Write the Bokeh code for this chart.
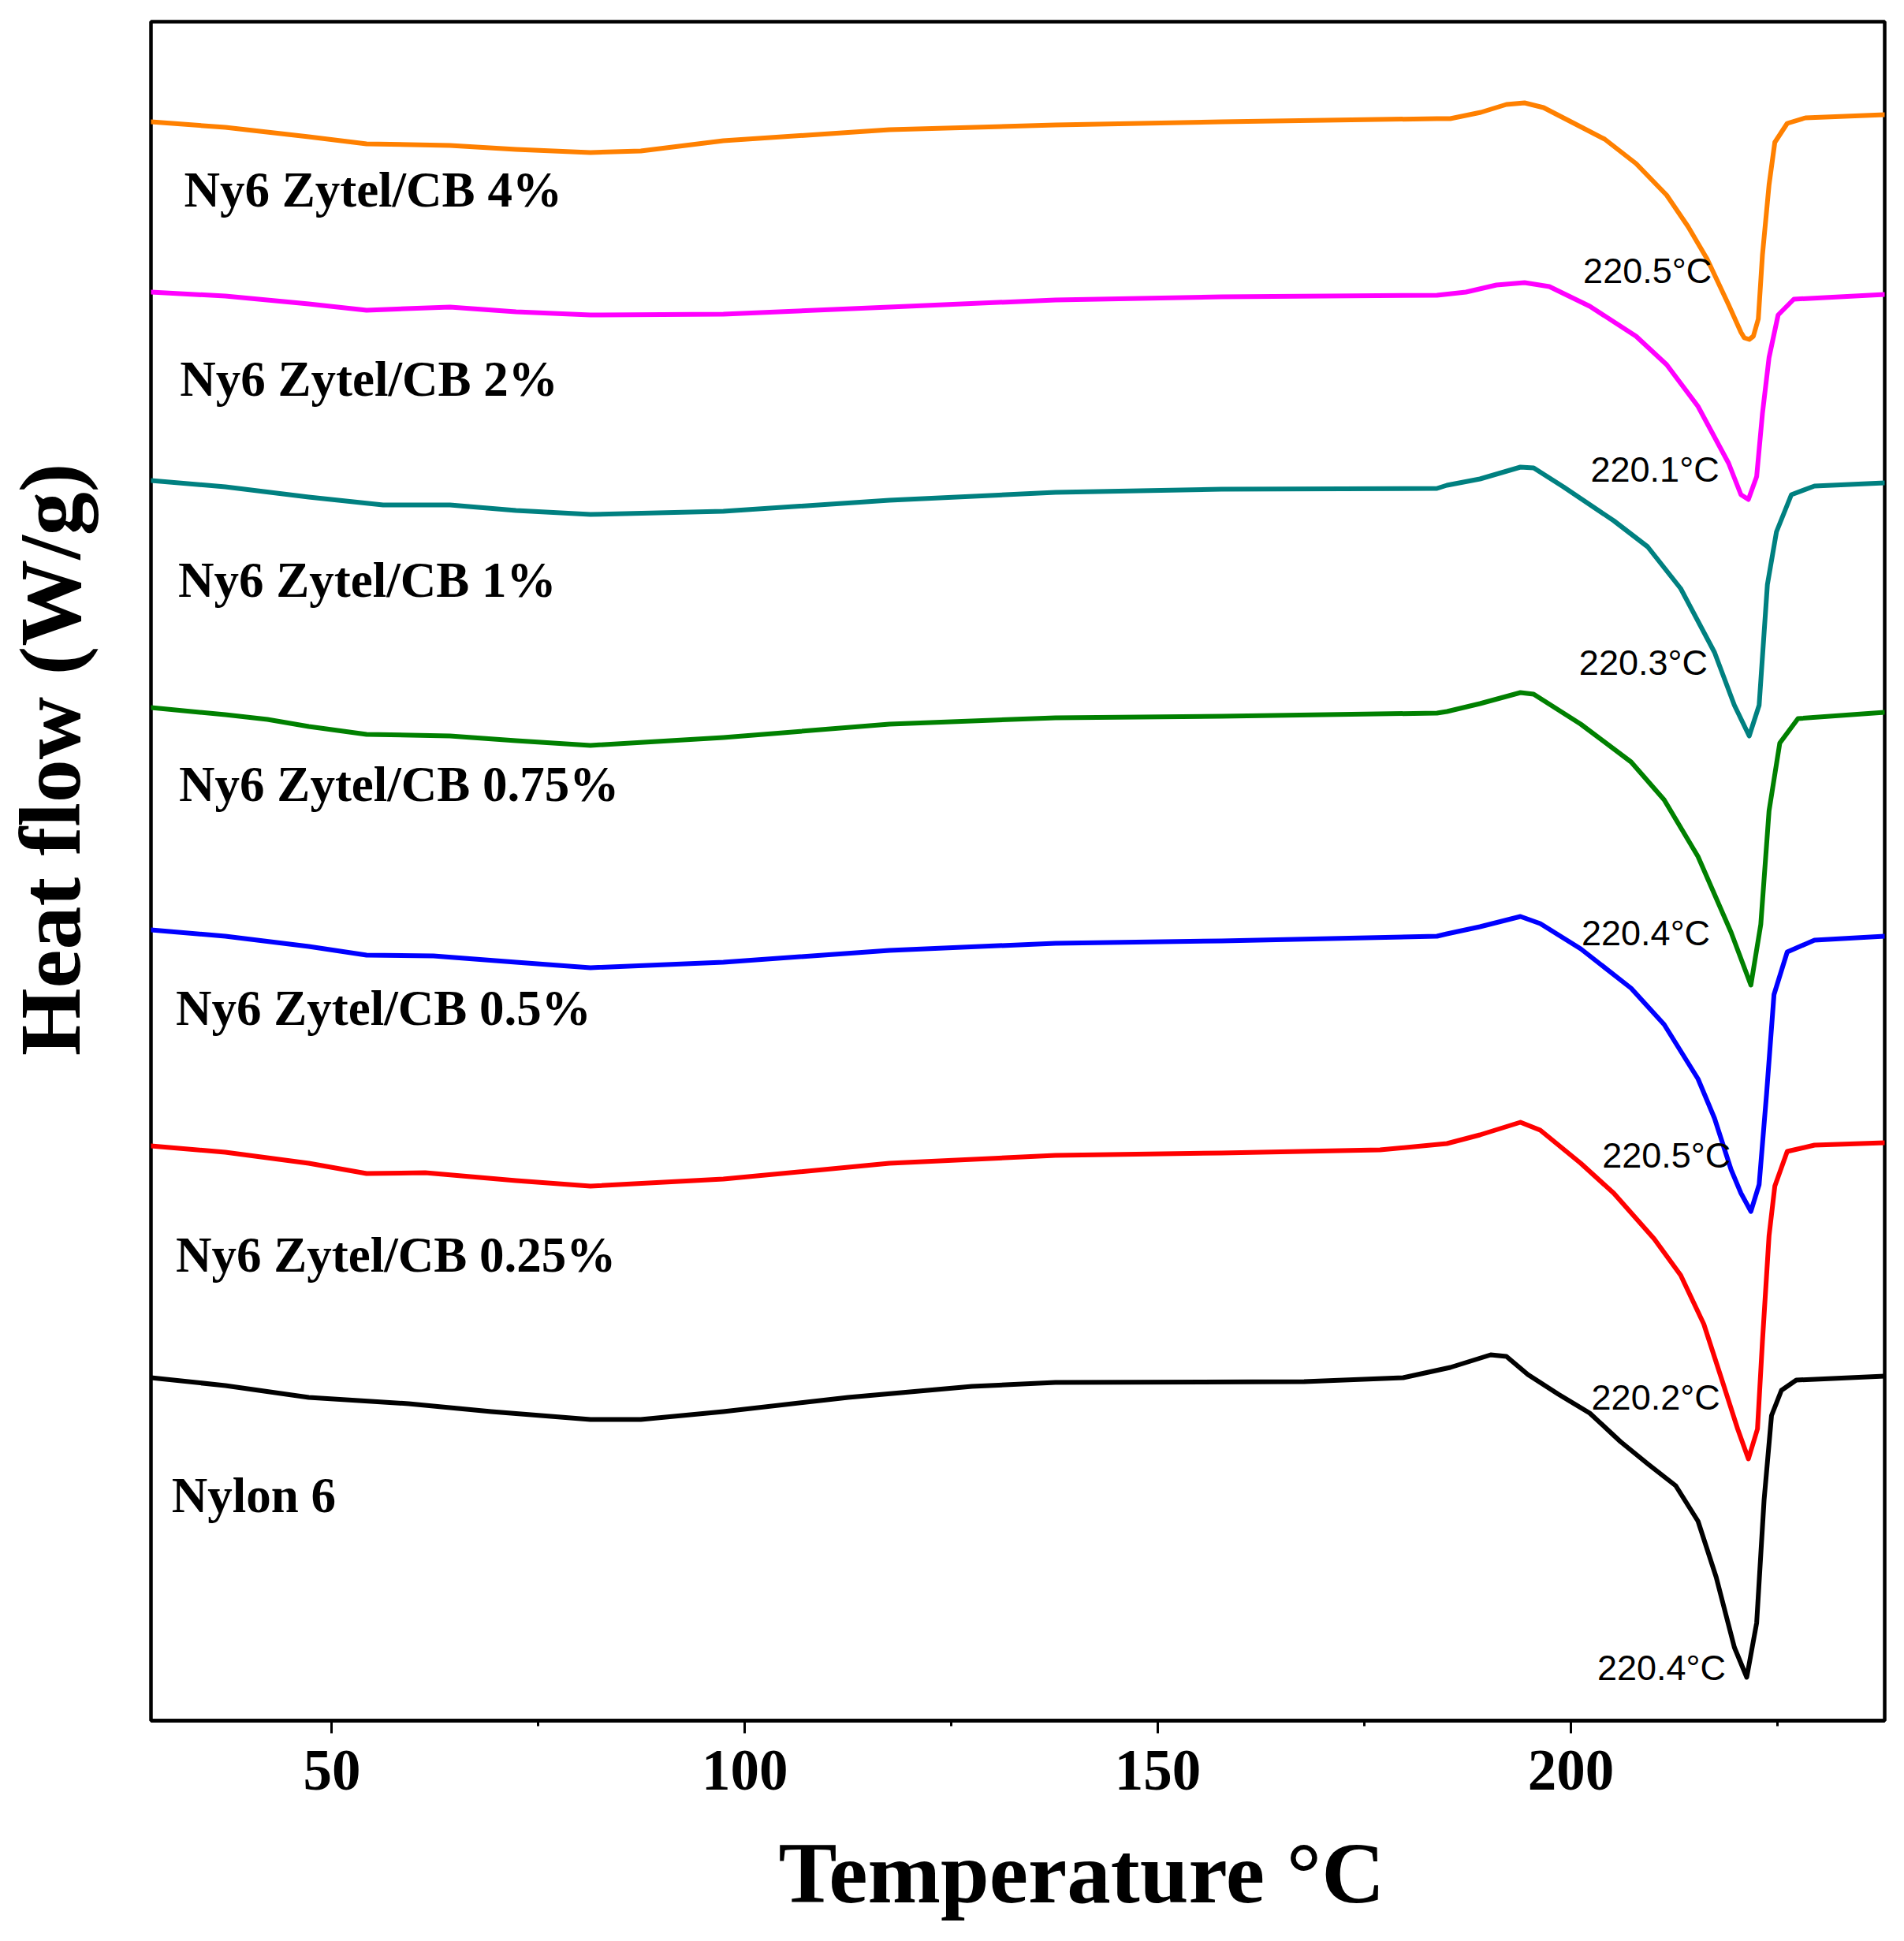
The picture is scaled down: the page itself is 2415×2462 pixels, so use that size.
from bokeh.plotting import figure
from bokeh.models import Range1d, FixedTicker, Title, ColumnDataSource
from bokeh.core.properties import value
from bokeh.embed import file_html
from bokeh.resources import INLINE

# ---------------- data ----------------
x_ticks = [50, 100, 150, 200]
x_minor_ticks = [75, 125, 175, 225]

series_names = ["Ny6 Zytel/CB 4%", "Ny6 Zytel/CB 2%", "Ny6 Zytel/CB 1%",
                "Ny6 Zytel/CB 0.75%", "Ny6 Zytel/CB 0.5%", "Ny6 Zytel/CB 0.25%",
                "Nylon 6"]
series_colors = ["#FF8000", "#FF00FF", "#008080", "#008000", "#0000FF",
                 "#FF0000", "#000000"]

t_cb4 = [28.1, 37.1, 47.2, 54.2, 64.3, 72.3, 81.3, 87.4, 97.4, 107.5, 117.5, 137.6,
         157.7, 183.8, 185.4, 189.1, 192.2, 194.4, 196.7, 200.4, 204.1, 207.9, 211.6,
         214.2, 216.5, 219.1, 220.6, 221.0, 221.6, 222.1, 222.7, 223.2, 224.0, 224.7,
         226.2, 228.4, 238.0]
hf_cb4 = [20.28, 20.21, 20.09, 20.00, 19.98, 19.93, 19.89, 19.91, 20.04, 20.11, 20.18, 20.24,
          20.28, 20.32, 20.32, 20.40, 20.50, 20.52, 20.46, 20.26, 20.06, 19.75, 19.35,
          18.95, 18.54, 17.96, 17.61, 17.54, 17.52, 17.56, 17.78, 18.59, 19.48, 20.02,
          20.26, 20.33, 20.37]

t_cb2 = [28.1, 37.1, 47.2, 54.2, 64.3, 72.3, 81.3, 97.4, 117.5, 137.6, 157.7, 183.8,
         187.3, 191.0, 194.4, 197.4, 202.3, 207.9, 211.6, 215.4, 219.1, 220.6, 221.5,
         222.5, 223.2, 224.0, 225.1, 227.0, 238.0]
hf_cb2 = [18.12, 18.07, 17.97, 17.89, 17.93, 17.87, 17.83, 17.84, 17.93, 18.02, 18.06, 18.08,
          18.12, 18.21, 18.24, 18.19, 17.94, 17.56, 17.20, 16.67, 15.95, 15.55, 15.49,
          15.78, 16.58, 17.29, 17.83, 18.03, 18.09]

t_cb1 = [28.1, 37.1, 47.2, 56.2, 64.3, 72.3, 81.3, 97.4, 117.5, 137.6, 157.7, 183.8,
         185.0, 189.0, 193.9, 195.5, 199.1, 205.2, 209.3, 213.3, 217.4, 219.8, 221.6,
         222.8, 223.8, 224.9, 226.7, 229.5, 238.0]
hf_cb1 = [15.73, 15.65, 15.52, 15.42, 15.42, 15.35, 15.30, 15.34, 15.48, 15.58, 15.62, 15.63,
          15.67, 15.75, 15.90, 15.89, 15.65, 15.22, 14.89, 14.36, 13.55, 12.88, 12.49,
          12.88, 14.41, 15.08, 15.55, 15.66, 15.70]

t_cb075 = [28.1, 37.1, 42.2, 47.2, 54.2, 64.3, 72.3, 81.3, 97.4, 117.5, 137.6, 157.7,
           183.8, 185.0, 189.0, 193.9, 195.5, 201.2, 207.3, 211.3, 215.4, 219.4, 221.8,
           223.0, 224.0, 225.3, 227.5, 238.0]
hf_cb075 = [12.85, 12.76, 12.70, 12.61, 12.51, 12.49, 12.43, 12.37, 12.47, 12.64, 12.72, 12.74,
            12.78, 12.80, 12.90, 13.04, 13.02, 12.64, 12.16, 11.68, 10.96, 10.00, 9.33,
            10.10, 11.54, 12.40, 12.71, 12.79]

t_cb05 = [28.1, 37.1, 47.2, 54.2, 62.3, 72.3, 81.3, 97.4, 117.5, 137.6, 157.7, 183.8,
          185.0, 189.0, 193.9, 196.3, 201.2, 207.3, 211.3, 215.4, 217.4, 219.4, 220.6,
          221.8, 222.8, 223.7, 224.6, 226.2, 229.5, 238.0]
hf_cb05 = [10.03, 9.95, 9.82, 9.71, 9.70, 9.62, 9.55, 9.62, 9.77, 9.86, 9.89, 9.95,
           9.98, 10.07, 10.20, 10.11, 9.79, 9.29, 8.83, 8.14, 7.64, 6.99, 6.69,
           6.46, 6.80, 7.95, 9.21, 9.75, 9.90, 9.95]

t_cb025 = [28.1, 37.1, 47.2, 54.2, 61.3, 72.3, 81.3, 97.4, 117.5, 137.6, 157.7, 176.9,
           185.0, 189.0, 193.9, 196.3, 201.2, 205.2, 210.1, 213.3, 216.1, 218.3, 220.2,
           221.5, 222.6, 223.2, 224.0, 224.7, 226.2, 229.5, 238.0]
hf_cb025 = [7.29, 7.21, 7.07, 6.94, 6.95, 6.85, 6.78, 6.87, 7.07, 7.17, 7.20, 7.24,
            7.32, 7.43, 7.59, 7.49, 7.07, 6.69, 6.11, 5.65, 5.03, 4.32, 3.70,
            3.32, 3.70, 4.81, 6.15, 6.78, 7.22, 7.30, 7.33]

t_ny6 = [28.1, 37.1, 47.2, 59.3, 69.3, 81.3, 87.4, 97.4, 112.5, 127.5, 137.6, 167.7,
         179.7, 185.4, 190.3, 192.2, 194.8, 198.5, 202.3, 206.0, 209.4, 212.7, 215.4,
         217.6, 219.8, 221.3, 222.5, 223.4, 224.3, 225.5, 227.3, 238.0]
hf_ny6 = [4.35, 4.25, 4.10, 4.02, 3.92, 3.82, 3.82, 3.92, 4.10, 4.24, 4.29, 4.30,
          4.35, 4.48, 4.64, 4.62, 4.39, 4.14, 3.90, 3.54, 3.25, 2.98, 2.53,
          1.82, 0.93, 0.55, 1.24, 2.80, 3.87, 4.19, 4.32, 4.37]

series_t = [t_cb4, t_cb2, t_cb1, t_cb075, t_cb05, t_cb025, t_ny6]
series_hf = [hf_cb4, hf_cb2, hf_cb1, hf_cb075, hf_cb05, hf_cb025, hf_ny6]

# series name labels (left edge, baseline)
name_t = [32.1, 31.6, 31.4, 31.5, 31.1, 31.1, 30.6]
name_hf = [19.21, 16.81, 14.26, 11.67, 8.83, 5.70, 2.65]

# melting-peak labels
peak_text = ["220.5°C", "220.1°C", "220.3°C", "220.4°C", "220.5°C", "220.2°C", "220.4°C"]
peak_t = [201.5, 202.4, 201.0, 201.3, 203.8, 202.5, 203.2]
peak_hf = [18.25, 15.73, 13.28, 9.85, 7.03, 3.96, 0.53]

x_title = "Temperature °C"
y_title = "Heat flow (W/g)"

# ---------------- figure ----------------
SERIF = "Liberation Serif"
SANS = "Liberation Sans"

p = figure(width=2399, height=2462, output_backend="svg", toolbar_location=None,
           x_range=Range1d(28.1, 238.0), y_range=Range1d(0, 21.55),
           min_border_left=191, min_border_right=9, min_border_top=27,
           min_border_bottom=280)
p.background_fill_color = "white"
p.border_fill_color = "white"
p.grid.visible = False
p.outline_line_color = "black"
p.outline_line_width = 4.5
p.yaxis.visible = False

xa = p.xaxis[0]
xa.ticker = FixedTicker(ticks=x_ticks, minor_ticks=x_minor_ticks)
xa.axis_line_color = "black"
xa.axis_line_width = 4.5
xa.major_tick_out = 16
xa.major_tick_in = 0
xa.minor_tick_out = 7
xa.minor_tick_in = 0
xa.major_tick_line_width = 3
xa.minor_tick_line_width = 3
xa.major_label_text_font = SERIF
xa.major_label_text_font_style = "bold"
xa.major_label_text_font_size = "73px"
xa.major_label_text_color = "black"
xa.major_label_standoff = 22

for t, hf, c in zip(series_t, series_hf, series_colors):
    p.line(t, hf, line_color=c, line_width=6, line_join="round", line_cap="round")

name_src = ColumnDataSource(dict(x=name_t, y=name_hf, text=series_names))
p.text(x="x", y="y", text="text", source=name_src, text_font=value(SERIF),
       text_font_style="bold", text_font_size="63px", text_color="black",
       text_align="left", text_baseline="alphabetic", y_offset=-21)

peak_src = ColumnDataSource(dict(x=peak_t, y=peak_hf, text=peak_text))
p.text(x="x", y="y", text="text", source=peak_src, text_font=value(SANS),
       text_font_size="45px", text_color="black",
       text_align="left", text_baseline="alphabetic", y_offset=-14)

# ---- axis titles: thin spacer panels push each title away from the frame ----
x_spacer = Title(text=" ", text_font_size="1px", standoff=38)
p.add_layout(x_spacer, "below")
xtitle = Title(text=x_title, text_font=SERIF, text_font_style="bold",
               text_font_size="111px", text_color="black", align="left", offset=796,
               vertical_align="top", standoff=0)
p.add_layout(xtitle, "below")

y_spacer = Title(text=" ", text_font_size="1px", standoff=64)
p.add_layout(y_spacer, "left")
ytitle = Title(text=y_title, text_font=SERIF, text_font_style="bold",
               text_font_size="110px", text_color="black", align="right", offset=560,
               standoff=0)
p.add_layout(ytitle, "left")

open("out.html", "w").write(file_html(p, INLINE))
